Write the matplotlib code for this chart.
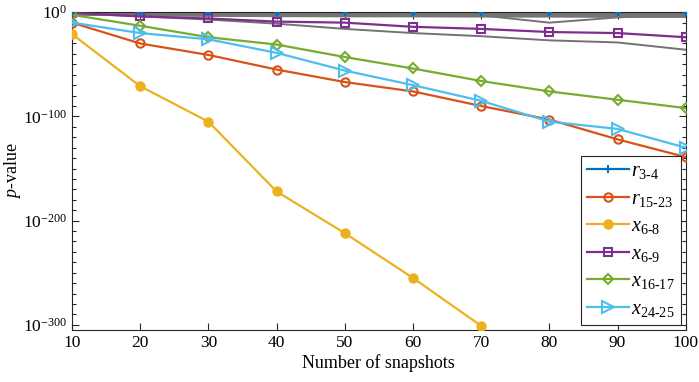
import numpy as np
import matplotlib
matplotlib.use('Agg')
from matplotlib import pyplot as plt
from matplotlib.ticker import MultipleLocator

plt.rcParams['font.family'] = 'Liberation Serif'
plt.rcParams['mathtext.fontset'] = 'custom'
plt.rcParams['mathtext.rm'] = 'Liberation Serif'
plt.rcParams['mathtext.it'] = 'Liberation Serif:italic'

# log10(p-value)
snapshots = [10, 20, 30, 40, 50, 60, 70, 80, 90, 100]
r_3_4 = [-1, -1, -1, -1, -1, -1, -1, -1, -1, -1]
r_15_23 = [-10, -30, -41, -55, -67, -76, -90, -103, -122, -139]
x_6_8 = [-21, -71, -105, -172, -212, -255, -301]
x_6_9 = [-0.5, -4, -6, -9, -10, -14, -16, -19, -20, -24]
x_16_17 = [-2.5, -13, -24, -31, -43, -54, -66, -76, -84, -92]
x_24_25 = [-10, -20, -26, -39, -56, -70, -85, -105, -112, -130]

# other variables (grey background lines)
grey_lines = [
    [0, 0, 0, 0, 0, 0, 0, 0, 0, 0],
    [-0.5, -0.5, -0.6, -0.6, -0.7, -0.7, -0.8, -0.8, -0.9, -0.9],
    [-1, -1.2, -1.5, -1.5, -1.8, -1.8, -2, -2, -2.2, -2.2],
    [-1.5, -2, -2.2, -2.5, -2.5, -2.8, -2.8, -3, -3, -3],
    [-2, -2.5, -3, -3, -3.3, -3.5, -3.5, -3.5, -3.8, -3.8],
    [-2.5, -3, -3.5, -3.8, -4, -4, -4.2, -4.2, -4.5, -4.5],
    [-0.3, -0.5, -0.8, -1, -1.2, -1.5, -3, -10, -5, -2],
    [-1, -4, -7, -11, -16, -20, -23, -27, -29, -36],
]

series = [
    (r_3_4, '$r_{3\\text{-}4}$', '#0072BD', '+', '#0072BD'),
    (r_15_23, '$r_{15\\text{-}23}$', '#D95319', 'o', 'none'),
    (x_6_8, '$x_{6\\text{-}8}$', '#EDB120', 'o', '#EDB120'),
    (x_6_9, '$x_{6\\text{-}9}$', '#7E2F8E', 's', 'none'),
    (x_16_17, '$x_{16\\text{-}17}$', '#77AC30', 'D', 'none'),
    (x_24_25, '$x_{24\\text{-}25}$', '#4DBEEE', '>', 'none'),
]

fig = plt.figure(figsize=(6.99, 3.82), dpi=100)
ax = fig.add_axes([0.103, 0.136, 0.878, 0.832])

for g in grey_lines:
    ax.plot(snapshots, g, color='0.45', lw=1.4, zorder=2)

handles = []
for vals, lab, col, mk, fc in series:
    n = len(vals)
    ms = 6 if mk != 'D' else 5.5
    if mk == '>':
        ms = 8
    if mk == 's':
        ms = 5.5
    h, = ax.plot(snapshots[:n], vals, color=col, lw=1.6, marker=mk, ms=ms,
                 mfc=fc, mew=1.5, label=lab, zorder=1 if mk == '+' else 3)
    handles.append(h)
# plus markers of r_3-4 show above the grey band
ax.plot(snapshots, r_3_4, ls='none', marker='+', ms=5, color='#0072BD', mew=1.5, zorder=4)

ax.set_xlim(10, 100)
ax.set_ylim(-305, 0)
ax.set_xticks(snapshots)
ax.set_yticks([-300, -200, -100, 0])
ax.set_yticklabels(['$10^{-300}$', '$10^{-200}$', '$10^{-100}$', '$10^{0}$'])
ax.yaxis.set_minor_locator(MultipleLocator(10))
ax.tick_params(direction='in', which='both', top=True, right=True, labelsize=12.5,
               color='0.15', width=0.8)
ax.tick_params(which='major', length=5)
ax.tick_params(which='minor', length=3)
for s in ax.spines.values():
    s.set_color('0.15')

ax.set_xlabel('Number of snapshots', fontsize=13, labelpad=2)
ax.set_ylabel('$p$-value', fontsize=13, labelpad=0)

leg = ax.legend(handles=handles, loc='lower right', fontsize=14.5, handlelength=2.1,
                handletextpad=0.1, labelspacing=0.42, borderpad=0.3,
                borderaxespad=0.25, fancybox=False, framealpha=1, edgecolor='0.15')
leg.get_frame().set_linewidth(0.8)

fig.savefig('out.png', dpi=100)
